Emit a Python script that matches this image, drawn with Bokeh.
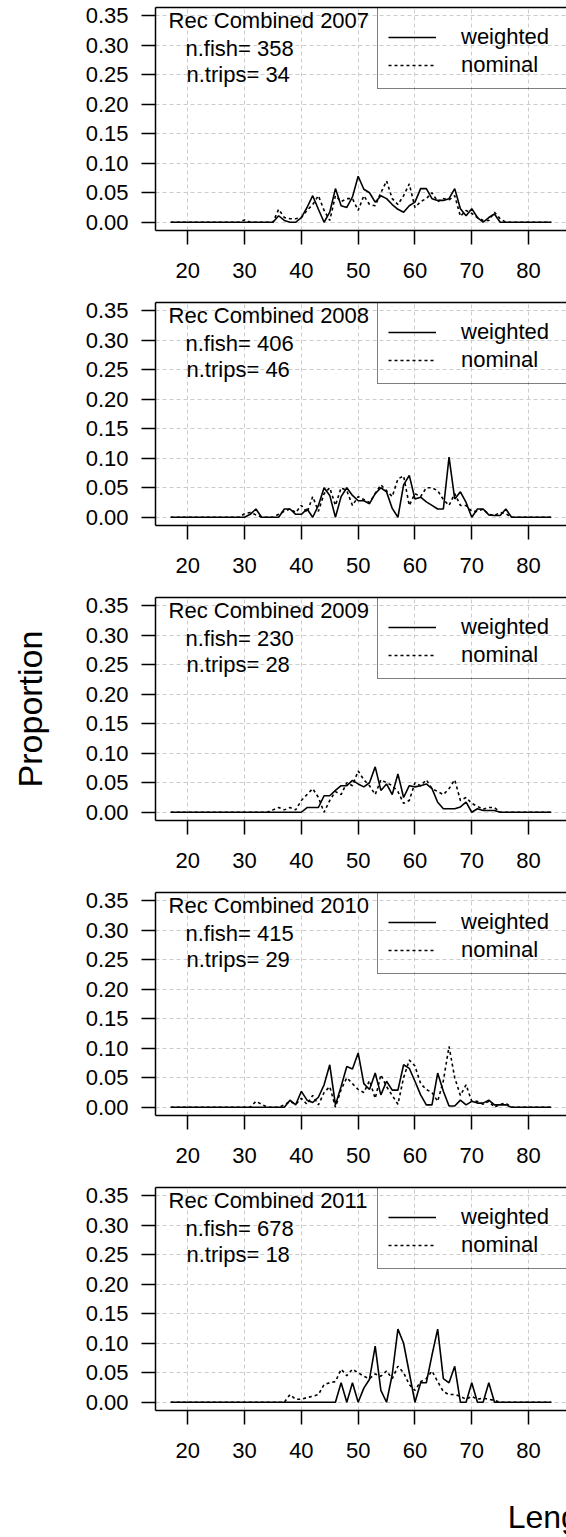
from bokeh.plotting import figure
from bokeh.layouts import column
from bokeh.models import (Range1d, FixedTicker, LinearAxis, Legend, LegendItem, Label,
                          NumeralTickFormatter, ColumnDataSource)
from bokeh.embed import file_html
from bokeh.resources import INLINE

FONT = "Liberation Sans"

# ---------------- data ----------------
lengths = [17, 18, 19, 20, 21, 22, 23, 24, 25, 26,
           27, 28, 29, 30, 31, 32, 33, 34, 35, 36,
           37, 38, 39, 40, 41, 42, 43, 44, 45, 46,
           47, 48, 49, 50, 51, 52, 53, 54, 55, 56,
           57, 58, 59, 60, 61, 62, 63, 64, 65, 66,
           67, 68, 69, 70, 71, 72, 73, 74, 75, 76,
           77, 78, 79, 80, 81, 82, 83, 84]

years = [2007, 2008, 2009, 2010, 2011]
n_fish = [358, 406, 230, 415, 678]
n_trips = [34, 46, 28, 29, 18]

x_ticks = [20, 30, 40, 50, 60, 70, 80]
y_ticks = [0.0, 0.05, 0.10, 0.15, 0.20, 0.25, 0.30, 0.35]

weighted_2007 = [0, 0, 0, 0, 0, 0, 0, 0, 0, 0,
                 0, 0, 0, 0, 0, 0, 0, 0, 0, 0.011,
                 0.003, 0, 0, 0.008, 0.025, 0.045, 0.022, 0, 0.017, 0.057,
                 0.028, 0.025, 0.043, 0.078, 0.056, 0.05, 0.034, 0.045, 0.04, 0.03,
                 0.022, 0.017, 0.028, 0.034, 0.057, 0.057, 0.04, 0.037, 0.037, 0.04,
                 0.057, 0.023, 0.011, 0.023, 0.008, 0, 0.008, 0.014, 0, 0,
                 0, 0, 0, 0, 0, 0, 0, 0]
nominal_2007 = [0, 0, 0, 0, 0, 0, 0, 0, 0, 0,
                0, 0, 0, 0.004, 0, 0, 0, 0, 0, 0.022,
                0.008, 0.006, 0.006, 0.008, 0.02, 0.03, 0.045, 0.02, 0.003, 0.045,
                0.035, 0.04, 0.04, 0.02, 0.045, 0.03, 0.028, 0.05, 0.07, 0.04,
                0.03, 0.045, 0.065, 0.025, 0.035, 0.04, 0.05, 0.035, 0.04, 0.038,
                0.045, 0.01, 0.02, 0.015, 0.008, 0.003, 0.003, 0.017, 0.006, 0,
                0, 0, 0, 0, 0, 0, 0, 0]

weighted_2008 = [0, 0, 0, 0, 0, 0, 0, 0, 0, 0,
                 0, 0, 0, 0, 0.005, 0.014, 0, 0, 0, 0,
                 0.014, 0.014, 0.005, 0.005, 0.014, 0, 0.02, 0.05, 0.037, 0,
                 0.035, 0.05, 0.037, 0.028, 0.028, 0.023, 0.04, 0.05, 0.043, 0.015,
                 0, 0.055, 0.071, 0.031, 0.034, 0.026, 0.02, 0.014, 0.014, 0.102,
                 0.031, 0.043, 0.025, 0, 0.014, 0.014, 0.004, 0.003, 0.003, 0.014,
                 0, 0, 0, 0, 0, 0, 0, 0]
nominal_2008 = [0, 0, 0, 0, 0, 0, 0, 0, 0, 0,
                0, 0, 0, 0.006, 0.008, 0.004, 0, 0, 0, 0.005,
                0.01, 0.014, 0.008, 0.02, 0.008, 0.035, 0.01, 0.04, 0.05, 0.02,
                0.05, 0.045, 0.02, 0.035, 0.03, 0.025, 0.04, 0.055, 0.045, 0.035,
                0.065, 0.07, 0.02, 0.04, 0.035, 0.05, 0.05, 0.045, 0.03, 0.02,
                0.04, 0.02, 0.02, 0.01, 0.01, 0.014, 0.005, 0.003, 0.008, 0.006,
                0, 0, 0, 0, 0, 0, 0, 0]

weighted_2009 = [0, 0, 0, 0, 0, 0, 0, 0, 0, 0,
                 0, 0, 0, 0, 0, 0, 0, 0, 0, 0,
                 0, 0, 0, 0, 0.008, 0.008, 0.008, 0.028, 0.028, 0.037,
                 0.045, 0.045, 0.054, 0.048, 0.043, 0.05, 0.077, 0.037, 0.048, 0.03,
                 0.065, 0.025, 0.045, 0.043, 0.045, 0.048, 0.04, 0.017, 0.006, 0.006,
                 0.006, 0.009, 0.017, 0, 0.006, 0.003, 0.003, 0.003, 0, 0,
                 0, 0, 0, 0, 0, 0, 0, 0]
nominal_2009 = [0, 0, 0, 0, 0, 0, 0, 0, 0, 0,
                0, 0, 0, 0, 0, 0, 0, 0, 0.004, 0.008,
                0.004, 0.008, 0.004, 0.02, 0.03, 0.04, 0.025, 0, 0.02, 0.035,
                0.03, 0.05, 0.045, 0.07, 0.055, 0.045, 0.03, 0.055, 0.05, 0.045,
                0.035, 0.015, 0.02, 0.05, 0.045, 0.055, 0.04, 0.035, 0.03, 0.04,
                0.055, 0.02, 0.025, 0.015, 0.01, 0.005, 0.008, 0.008, 0, 0,
                0, 0, 0, 0, 0, 0, 0, 0]

weighted_2010 = [0, 0, 0, 0, 0, 0, 0, 0, 0, 0,
                 0, 0, 0, 0, 0, 0, 0, 0, 0, 0,
                 0, 0.012, 0.004, 0.027, 0.012, 0.008, 0.017, 0.038, 0.072, 0.004,
                 0.035, 0.069, 0.065, 0.092, 0.04, 0.03, 0.058, 0.021, 0.044, 0.029,
                 0.029, 0.072, 0.066, 0.044, 0.021, 0.004, 0.004, 0.058, 0.027, 0.002,
                 0.002, 0.012, 0.004, 0.01, 0.007, 0.007, 0.012, 0.004, 0.004, 0.004,
                 0, 0, 0, 0, 0, 0, 0, 0]
nominal_2010 = [0, 0, 0, 0, 0, 0, 0, 0, 0, 0,
                0, 0, 0, 0, 0, 0.01, 0.005, 0, 0, 0,
                0.004, 0.01, 0.005, 0.015, 0.005, 0.02, 0.004, 0.025, 0.035, 0,
                0.03, 0.05, 0.04, 0.03, 0.025, 0.045, 0.015, 0.055, 0.035, 0.02,
                0.005, 0.05, 0.08, 0.07, 0.04, 0.03, 0.025, 0.01, 0.045, 0.103,
                0.05, 0.02, 0.038, 0.01, 0.01, 0.005, 0.01, 0, 0.005, 0.007,
                0, 0, 0, 0, 0, 0, 0, 0]

weighted_2011 = [0, 0, 0, 0, 0, 0, 0, 0, 0, 0,
                 0, 0, 0, 0, 0, 0, 0, 0, 0, 0,
                 0, 0, 0, 0, 0, 0, 0, 0, 0, 0,
                 0.033, 0, 0.033, 0, 0.024, 0.039, 0.095, 0.02, 0, 0.047,
                 0.124, 0.1, 0.05, 0, 0.033, 0.033, 0.08, 0.124, 0.04, 0.033,
                 0.061, 0, 0, 0.033, 0, 0, 0.033, 0, 0, 0,
                 0, 0, 0, 0, 0, 0, 0, 0]
nominal_2011 = [0, 0, 0, 0, 0, 0, 0, 0, 0, 0,
                0, 0, 0, 0, 0, 0, 0, 0, 0, 0,
                0, 0.013, 0.005, 0.005, 0.008, 0.01, 0.013, 0.03, 0.033, 0.035,
                0.056, 0.045, 0.056, 0.05, 0.044, 0.04, 0.048, 0.044, 0.053, 0.04,
                0.061, 0.05, 0.03, 0.02, 0.035, 0.04, 0.053, 0.035, 0.018, 0.013,
                0.013, 0.01, 0.005, 0.01, 0.005, 0.007, 0.005, 0.003, 0, 0,
                0, 0, 0, 0, 0, 0, 0, 0]

weighted = [weighted_2007, weighted_2008, weighted_2009, weighted_2010, weighted_2011]
nominal = [nominal_2007, nominal_2008, nominal_2009, nominal_2010, nominal_2011]

# ---------------- layout ----------------
W = 566
PANEL_H = 295
BOTTOM_H = 1537 - 5 * PANEL_H

panels = []
for i, year in enumerate(years):
    p = figure(width=W, height=PANEL_H,
               x_range=Range1d(14.32, 86.68), y_range=Range1d(-0.014, 0.364),
               output_backend="svg", toolbar_location=None,
               min_border_left=155, min_border_right=0,
               min_border_top=7, min_border_bottom=65,
               background_fill_color="white", border_fill_color="white")
    p.outline_line_color = None

    xt = FixedTicker(ticks=x_ticks)
    yt = FixedTicker(ticks=y_ticks)
    p.xaxis.ticker = xt
    p.yaxis.ticker = yt
    p.xgrid.ticker = xt
    p.ygrid.ticker = yt
    p.yaxis.formatter = NumeralTickFormatter(format="0.00")

    for ax in (p.xaxis[0], p.yaxis[0]):
        ax.axis_line_color = "black"
        ax.axis_line_width = 1.5
        ax.major_tick_line_color = "black"
        ax.major_tick_line_width = 1.5
        ax.major_tick_out = 14
        ax.major_tick_in = 0
        ax.minor_tick_line_color = None
        ax.major_label_text_font = FONT
        ax.major_label_text_font_size = "22px"
        ax.major_label_text_color = "black"
    p.xaxis[0].major_label_standoff = 18
    p.yaxis[0].major_label_standoff = 13

    top = LinearAxis(ticker=FixedTicker(ticks=[]), axis_line_color="black",
                     axis_line_width=1.5, major_tick_line_color=None,
                     minor_tick_line_color=None, major_label_text_font_size="0px",
                     major_tick_out=0, major_tick_in=0)
    p.add_layout(top, "above")

    for g in (p.xgrid[0], p.ygrid[0]):
        g.grid_line_color = "#cccccc"
        g.grid_line_dash = "4 3"
        g.grid_line_width = 1

    src = ColumnDataSource(dict(length=lengths, weighted=weighted[i], nominal=nominal[i]))
    rn = p.line("length", "nominal", source=src, line_color="black",
                line_width=1.6, line_dash="3 3")
    rw = p.line("length", "weighted", source=src, line_color="black", line_width=1.6)

    lab_kw = dict(text_font=FONT, text_font_size="22px", text_color="black",
                  text_align="left", text_baseline="alphabetic")
    p.add_layout(Label(x=16.61, y=0.3428, text=f"Rec Combined {year}", **lab_kw))
    p.add_layout(Label(x=19.60, y=0.2953, text=f"n.fish= {n_fish[i]}", **lab_kw))
    p.add_layout(Label(x=19.78, y=0.2496, text=f"n.trips= {n_trips[i]}", **lab_kw))

    legend = Legend(items=[LegendItem(label="weighted", renderers=[rw]),
                           LegendItem(label="nominal", renderers=[rn])],
                    location=(222, 141), orientation="vertical",
                    title=" ", title_text_font_size="5px", title_standoff=4,
                    padding=10, spacing=2, margin=0,
                    glyph_width=48, glyph_height=20,
                    label_standoff=25, label_width=110, label_height=20,
                    label_text_font=FONT, label_text_font_size="22px",
                    label_text_color="black",
                    border_line_color="black", border_line_width=1.5,
                    background_fill_alpha=0)
    p.add_layout(legend)

    if i == 2:
        p.yaxis[0].axis_label = "Proportion"
        p.yaxis[0].axis_label_text_font = FONT
        p.yaxis[0].axis_label_text_font_size = "34px"
        p.yaxis[0].axis_label_text_font_style = "normal"
        p.yaxis[0].axis_label_text_color = "black"
        p.yaxis[0].axis_label_standoff = 34

    panels.append(p)

bottom = figure(width=W, height=BOTTOM_H, x_range=Range1d(0, W), y_range=Range1d(0, BOTTOM_H),
                output_backend="svg", toolbar_location=None,
                x_axis_type=None, y_axis_type=None, min_border=0,
                min_border_left=0, min_border_right=0, min_border_top=0, min_border_bottom=0,
                background_fill_color="white", border_fill_color="white")
bottom.outline_line_color = None
bottom.add_layout(Label(x=485, y=21, text="Length (cm)", text_font=FONT,
                        text_font_size="32px", text_color="black",
                        text_align="left", text_baseline="alphabetic"))

layout = column(*panels, bottom, spacing=0)
open("out.html", "w").write(file_html(layout, INLINE))
